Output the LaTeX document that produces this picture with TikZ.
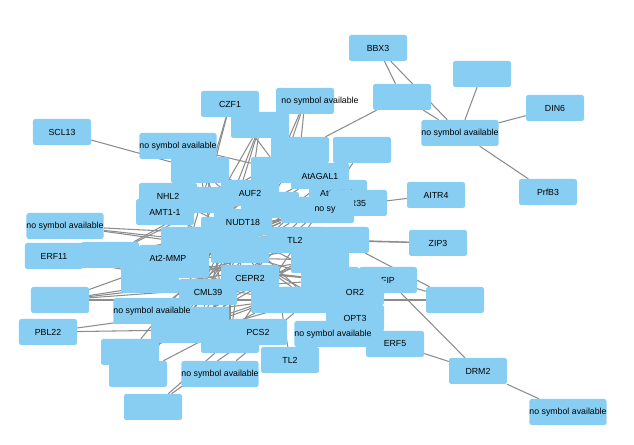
\documentclass[tikz,border=0pt]{standalone}
\usepackage{fontspec}
\setmainfont{Liberation Sans}
\usetikzlibrary{backgrounds}
\definecolor{genefill}{RGB}{135,206,242}
\definecolor{edgegray}{RGB}{140,140,140}
\begin{document}
\begin{tikzpicture}[x=0.3mm, y=-0.3mm,
    gene/.style={rectangle, rounded corners=2pt, fill=genefill, minimum width=1.74cm, minimum height=0.78cm, inner sep=0pt, font=\fontsize{7.5}{8}\selectfont},
    link/.style={edgegray, line width=0.9pt}
]
\useasboundingbox (0,0) rectangle (634,445);

% outer nodes
\node[gene] (bbx3) at (378,48) {BBX3};
\node[gene] (e1) at (482,74) {};
\node[gene] (e2) at (402,97) {};
\node[gene] (din6) at (555,108) {DIN6};
\node[gene] (nsa1) at (460,133) {no symbol available};
\node[gene] (prfb3) at (548,192) {PrfB3};
\node[gene] (scl13) at (62,132) {SCL13};
\node[gene] (aitr4) at (436,195) {AITR4};
\node[gene] (zip3) at (438,243) {ZIP3};
\node[gene] (e3) at (455,300) {};
\node[gene] (drm2) at (478,371) {DRM2};
\node[gene] (nsa2) at (568,412) {no symbol available};
\node[gene] (erf5) at (395,344) {ERF5};
\node[gene] (fip) at (388,280) {FIP};

% inner blank nodes
\foreach \i/\x/\y in {1/260/125, 2/300/150, 3/200/170, 4/280/170, 5/362/150,
    6/190/240, 7/240/250, 8/320/260, 9/280/300, 10/200/320, 11/310/300,
    12/230/340, 13/340/240, 14/150/280, 15/60/300, 16/180/330, 17/310/210,
    18/205/200, 19/130/352, 20/138/374, 21/153/407, 22/110/255, 23/270/205,
    24/230/230, 25/330/280, 26/180/265}
  \node[gene] (b\i) at (\x,\y) {};

\node[gene] (czf1) at (230,104) {CZF1};
\node[gene] (nsa3) at (305,101) {};
\node at (320,101) {\fontsize{7.5}{8}\selectfont no symbol available};
\node[gene] (nsa4) at (178,146) {no symbol available};
\node[gene] (nhl2) at (168,196) {NHL2};
\node[gene] (amt1) at (165,212) {AMT1-1};
\node[gene] (auf2) at (250,193) {AUF2};
\node[gene] (agal1) at (320,176) {AtAGAL1};
\node[gene] (caf1b) at (338,193) {AtCAF1b};
\node[gene] (r35) at (358,203) {R35};
\node[gene] (nsa5) at (325,210) {no sy};
\node[gene] (nudt18) at (243,222) {NUDT18};
\node[gene] (nsa6) at (65,226) {no symbol available};
\node[gene] (erf11) at (54,256) {ERF11};
\node[gene] (tl2a) at (295,240) {TL2};
\node[gene] (mmp) at (168,258) {At2-MMP};
\node[gene] (cepr2) at (250,278) {CEPR2};
\node[gene] (cml39) at (208,292) {CML39};
\node[gene] (or2) at (355,292) {OR2};
\node[gene] (nsa7) at (152,311) {no symbol available};
\node[gene] (pbl22) at (48,332) {PBL22};
\node[gene] (opt3) at (355,318) {OPT3};
\node[gene] (pcs2) at (258,332) {PCS2};
\node[gene] (nsa8) at (333,334) {no symbol available};
\node[gene] (tl2b) at (290,360) {TL2};
\node[gene] (nsa9) at (220,374) {no symbol available};

\begin{scope}[on background layer]
\foreach \a/\b in {bbx3/e2, bbx3/nsa1, e1/nsa1, din6/nsa1, prfb3/nsa1, e2/nsa1,
    e2/b2, scl13/b3, aitr4/b17, zip3/tl2a, zip3/b13, fip/e3, fip/drm2, erf5/drm2,
    drm2/nsa2, e3/b11, fip/b8, czf1/b4, czf1/b18, nsa3/b2, nsa3/b23, nsa4/b6,
    nsa4/b23, nsa6/b6, nsa6/b7, erf11/b7, erf11/b9, b15/b8, b15/cepr2, pbl22/b16,
    pbl22/b9, b19/b11, b20/b9, b21/pcs2, b21/b12, nsa9/b11, tl2b/b9, erf5/b8,
    b22/b8, b22/b11, b14/b17, b16/b4, b10/b2, b12/b5, b3/b9, b18/b11, b6/b13,
    nhl2/or2, amt1/opt3, mmp/b5, cml39/b5, b1/b10, b1/b12, b2/b16, b4/b14,
    b5/b7, agal1/b14, caf1b/b10, r35/b22, b13/b19, czf1/b6, nsa3/b7, b22/b2,
    b22/b4, b15/b17, b19/b4, b20/b2, nsa7/b8, nsa7/b17, b3/b12, b10/b13,
    b22/b25, b22/b13, b15/b25, b14/b13, b26/b25, b26/b17, b24/b16, b24/b12,
    b6/b25, b7/b11, nsa6/b13, erf11/b25, b15/b11, b19/b25, czf1/b2, nsa4/b4,
    b3/b25, b18/b9, b1/b16, b1/b26, b10/b17, b16/b25, r35/b6, e3/b13}
  \draw[link] (\a) -- (\b);
\end{scope}
\end{tikzpicture}
\end{document}
